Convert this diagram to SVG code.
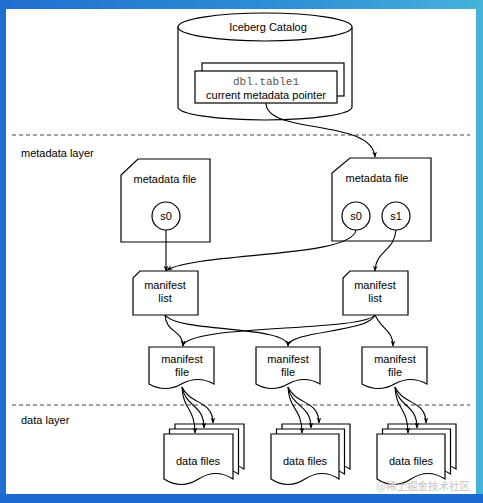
<svg xmlns="http://www.w3.org/2000/svg" width="483" height="503" viewBox="0 0 483 503">
<defs>
<linearGradient id="bg" x1="0" y1="0" x2="1" y2="0">
<stop offset="0" stop-color="#1f6fd0"/>
<stop offset="0.6" stop-color="#2f8fd6"/>
<stop offset="1" stop-color="#45b3dc"/>
</linearGradient>
<marker id="arr" viewBox="0 0 10 10" refX="9" refY="5" markerWidth="6" markerHeight="6" orient="auto" markerUnits="userSpaceOnUse">
<path d="M0,1 L10,5 L0,9 L3,5 Z" fill="#000"/>
</marker>
<style>
.sh{fill:#fff;stroke:#000;stroke-width:1.2}
.t{font-family:"Liberation Sans",Arial,sans-serif;font-size:11px;fill:#000;text-anchor:middle}
.lbl{font-family:"Liberation Sans",Arial,sans-serif;font-size:11px;fill:#000}
.mono{font-family:"Liberation Mono","Courier New",monospace;font-size:11px;fill:#555;text-anchor:middle}
.c{fill:none;stroke:#000;stroke-width:1.1;marker-end:url(#arr)}
.dash{stroke:#444;stroke-width:1.2;stroke-dasharray:4,3}
</style>
</defs>
<rect x="0" y="0" width="483" height="503" fill="url(#bg)"/>
<rect x="0" y="494" width="483" height="9" fill="#1c6bd3"/>
<rect x="6" y="9" width="470" height="485" fill="#fff"/>

<g id="layers">
<line class="dash" x1="12" y1="135" x2="470" y2="135"/>
<line class="dash" x1="12" y1="405" x2="470" y2="405"/>
<text class="lbl" x="21" y="157">metadata layer</text>
<text class="lbl" x="21" y="424">data layer</text>
</g>

<g id="catalog">
<path class="sh" d="M178,27 V107 A87,13 0 0 0 352,107 V27"/>
<ellipse class="sh" cx="265" cy="27" rx="87" ry="14"/>
<text class="t" x="268" y="31">Iceberg Catalog</text>
<rect class="sh" x="202" y="63" width="142" height="33"/>
<rect class="sh" x="195" y="71" width="142" height="32"/>
<text class="mono" x="266" y="85">dbl.table1</text>
<text class="t" x="266" y="99">current metadata pointer</text>
</g>

<g id="metadata-file-1">
<path class="sh" d="M138,159 H210 V242 H121 V175 Z"/>
<text class="t" x="165" y="183">metadata file</text>
<circle class="sh" cx="166" cy="216" r="14"/>
<text class="t" x="166" y="220">s0</text>
</g>

<g id="metadata-file-2">
<path class="sh" d="M350,158 H431 V241 H332 V173 Z"/>
<text class="t" x="377" y="182">metadata file</text>
<circle class="sh" cx="356" cy="216" r="14"/>
<text class="t" x="356" y="220">s0</text>
<circle class="sh" cx="396" cy="216" r="14"/>
<text class="t" x="396" y="220">s1</text>
</g>

<g id="manifest-list-1">
<path class="sh" d="M140,271 H198 V315 H133 V278 Z"/>
<text class="t" x="165" y="289">manifest</text>
<text class="t" x="165" y="302">list</text>
</g>

<g id="manifest-list-2">
<path class="sh" d="M350,271 H408 V315 H343 V278 Z"/>
<text class="t" x="375" y="289">manifest</text>
<text class="t" x="375" y="302">list</text>
</g>

<g id="manifest-file-1">
<path class="sh" d="M149,347 H214 V384 Q197.75,375 181.5,384 Q165.25,393 149,384 Z"/>
<text class="t" x="182" y="363">manifest</text>
<text class="t" x="182" y="376">file</text>
</g>
<g id="manifest-file-2">
<path class="sh" d="M256,347 H320 V384 Q304,375 288,384 Q272,393 256,384 Z"/>
<text class="t" x="288" y="363">manifest</text>
<text class="t" x="288" y="376">file</text>
</g>
<g id="manifest-file-3">
<path class="sh" d="M362,347 H427 V384 Q410.75,375 394.5,384 Q378.25,393 362,384 Z"/>
<text class="t" x="395" y="363">manifest</text>
<text class="t" x="395" y="376">file</text>
</g>

<g id="data-files-1">
<path class="sh" d="M175,424 H244 V469 Q226.75,458 209.5,469 Q192.25,480 175,469 Z"/>
<path class="sh" d="M169.5,429 H238.5 V474 Q221.25,463 204,474 Q186.75,485 169.5,474 Z"/>
<path class="sh" d="M164,434 H233 V479 Q215.75,468 198.5,479 Q181.25,490 164,479 Z"/>
<text class="t" x="198" y="465">data files</text>
</g>
<g id="data-files-2">
<path class="sh" d="M282,424 H350 V469 Q333,458 316,469 Q299,480 282,469 Z"/>
<path class="sh" d="M276.5,429 H344.5 V474 Q327.5,463 310.5,474 Q293.5,485 276.5,474 Z"/>
<path class="sh" d="M271,434 H339 V479 Q322,468 305,479 Q288,490 271,479 Z"/>
<text class="t" x="305" y="465">data files</text>
</g>
<g id="data-files-3">
<path class="sh" d="M388,424 H456 V469 Q439,458 422,469 Q405,480 388,469 Z"/>
<path class="sh" d="M382.5,429 H450.5 V474 Q433.5,463 416.5,474 Q399.5,485 382.5,474 Z"/>
<path class="sh" d="M377,434 H445 V479 Q428,468 411,479 Q394,490 377,479 Z"/>
<text class="t" x="411" y="465">data files</text>
</g>

<g id="connectors">
<path class="c" d="M266,103 C266,135 372,118 375,157"/>
<path class="c" d="M166,230 V271"/>
<path class="c" d="M356,230 C352,258 200,252 167,270"/>
<path class="c" d="M396,230 C394,252 376,250 375,271"/>
<path class="c" d="M165,315 C166,333 183,330 183,346"/>
<path class="c" d="M165,315 C178,333 288,325 288,346"/>
<path class="c" d="M375,315 C362,332 186,324 183,346"/>
<path class="c" d="M375,315 C368,333 290,330 288,346"/>
<path class="c" d="M375,315 C382,330 393,330 393,346"/>
<path class="c" d="M182,387 C183,410 195,408 195,433"/>
<path class="c" d="M182,387 C186,408 204,404 204,428"/>
<path class="c" d="M182,387 C190,405 213,400 213,423"/>
<path class="c" d="M288,387 C289,410 302,408 302,433"/>
<path class="c" d="M288,387 C292,408 311,404 311,428"/>
<path class="c" d="M288,387 C296,405 319,400 319,423"/>
<path class="c" d="M395,387 C396,410 408,408 408,433"/>
<path class="c" d="M395,387 C399,408 417,404 417,428"/>
<path class="c" d="M395,387 C403,405 426,400 426,423"/>
</g>

<text x="470" y="490" font-family="Noto Sans CJK SC, sans-serif" font-size="10.5" fill="#c4c4c4" text-anchor="end">@稀土掘金技术社区</text>
</svg>
